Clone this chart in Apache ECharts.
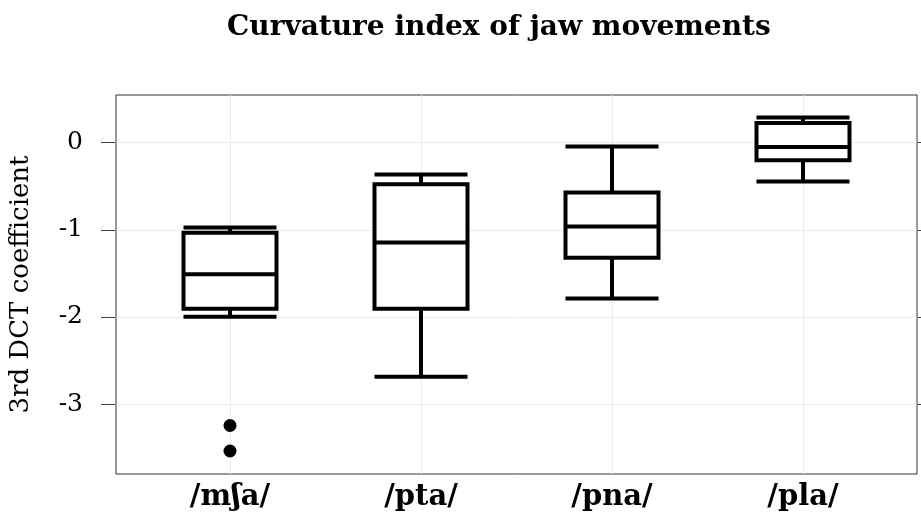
<!DOCTYPE html>
<html>
<head>
<meta charset="utf-8">
<script src="https://cdn.jsdelivr.net/npm/echarts@6/dist/echarts.min.js"></script>
<style>html,body{margin:0;padding:0;background:#fff;}#c{width:921px;height:514px;}</style>
</head>
<body>
<div id="c"></div>
<script>
const categories = ['/mʃa/', '/pta/', '/pna/', '/pla/'];
// [lower whisker, Q1, median, Q3, upper whisker]
const boxValues = [
  [-1.998, -1.906, -1.51, -1.035, -0.975],
  [-2.685, -1.906, -1.146, -0.478, -0.367],
  [-1.787, -1.322, -0.962, -0.573, -0.046],
  [-0.447, -0.203, -0.05, 0.225, 0.286]
];
const outlierCategory = ['/mʃa/', '/mʃa/'];
const outlierValues = [-3.244, -3.536];
const yTicks = [-3, -2, -1, 0];
const yMin = -3.8, yMax = 0.545;

const serif = '"DejaVu Serif", "Liberation Serif", serif';
const chart = echarts.init(document.getElementById('c'), null, {renderer: 'canvas'});
chart.setOption({
  animation: false,
  backgroundColor: '#fff',
  title: {
    text: 'Curvature index of jaw movements',
    left: 222, top: 9,
    textStyle: {fontFamily: serif, fontWeight: 'bold', fontSize: 28, color: '#000'}
  },
  grid: [
    {left: 116, right: 4, top: 95, bottom: 40, show: true, borderColor: '#333', borderWidth: 1, backgroundColor: 'transparent'},
    {left: 230, right: 118, top: 95, bottom: 40}
  ],
  xAxis: [
    {gridIndex: 0, type: 'value', min: 0, max: 1, show: false},
    {gridIndex: 1, type: 'category', data: categories, boundaryGap: false,
     axisLine: {show: false}, axisTick: {show: false},
     splitLine: {show: true, lineStyle: {color: '#ebebeb', width: 1}},
     axisLabel: {margin: 9, fontFamily: serif, fontWeight: 'bold', fontSize: 29, color: '#000'}}
  ],
  yAxis: [
    {gridIndex: 0, type: 'value', min: yMin, max: yMax, position: 'left',
     name: '3rd DCT coefficient', nameLocation: 'middle', nameGap: 82, nameRotate: 90,
     nameTextStyle: {fontFamily: serif, fontSize: 26, color: '#000'},
     axisLine: {show: false},
     axisTick: {show: true, inside: false, length: 15, customValues: yTicks, lineStyle: {color: '#444', width: 1}},
     axisLabel: {margin: 33, customValues: yTicks, fontFamily: serif, fontSize: 25, color: '#000'},
     splitLine: {show: true, lineStyle: {color: '#ebebeb', width: 1}}},
    {gridIndex: 0, type: 'value', min: yMin, max: yMax, position: 'right',
     axisLine: {show: false},
     axisTick: {show: true, inside: false, length: 15, customValues: yTicks, lineStyle: {color: '#444', width: 1}},
     axisLabel: {show: false}, splitLine: {show: false}},
    {gridIndex: 1, type: 'value', min: yMin, max: yMax, show: false, splitLine: {show: false}}
  ],
  series: [
    {type: 'boxplot', xAxisIndex: 1, yAxisIndex: 2, data: boxValues,
     boxWidth: [93, 93],
     itemStyle: {color: '#fff', borderColor: '#000', borderWidth: 4},
     emphasis: {disabled: true}},
    {type: 'scatter', xAxisIndex: 1, yAxisIndex: 2,
     data: outlierCategory.map((c, i) => [c, outlierValues[i]]),
     symbol: 'circle', symbolSize: 13, itemStyle: {color: '#000', opacity: 1}}
  ]
});
</script>
</body>
</html>
